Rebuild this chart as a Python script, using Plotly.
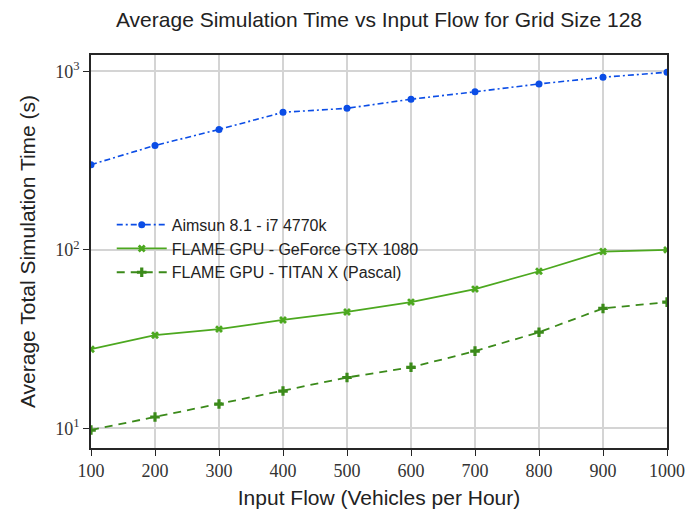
import plotly.graph_objects as go

flows = [100, 200, 300, 400, 500, 600, 700, 800, 900, 1000]
aimsun = [300, 384, 472, 589, 620, 697, 767, 849, 925, 987]
gtx1080 = [27.8, 33.3, 36.0, 40.5, 44.9, 51.0, 60.3, 75.9, 97.8, 100.0]
titanx = [9.8, 11.6, 13.7, 16.2, 19.3, 22.0, 27.1, 34.6, 47.0, 51.0]

names = ["Aimsun 8.1 - i7 4770k", "FLAME GPU - GeForce GTX 1080", "FLAME GPU - TITAN X (Pascal)"]
yticks = [10, 100, 1000]
yticktext = ["10<sup>1</sup>", "10<sup>2</sup>", "10<sup>3</sup>"]
xticks = flows

SANS = "Liberation Sans"
SERIF = "Liberation Serif"

fig = go.Figure()
fig.add_trace(go.Scatter(
    x=flows, y=aimsun, name=names[0], mode="lines+markers",
    line=dict(color="#0b4de6", width=1.6, dash="6px,3px,2px,3px"),
    marker=dict(symbol="circle", size=7, color="#0b4de6"),
))
fig.add_trace(go.Scatter(
    x=flows, y=gtx1080, name=names[1], mode="lines+markers",
    line=dict(color="#4ca81f", width=1.8),
    marker=dict(symbol="x", size=7, color="#4ca81f"),
))
fig.add_trace(go.Scatter(
    x=flows, y=titanx, name=names[2], mode="lines+markers",
    line=dict(color="#3b8a1a", width=1.8, dash="8px,6px"),
    marker=dict(symbol="cross", size=8, color="#3b8a1a"),
))

fig.update_layout(
    width=687, height=516,
    margin=dict(l=91, r=20, t=55, b=68),
    paper_bgcolor="white", plot_bgcolor="white",
    title=dict(text="Average Simulation Time vs Input Flow for Grid Size 128",
               x=0.5, xanchor="center", y=0.962, yanchor="middle",
               xref="paper",
               font=dict(family=SANS, size=21, color="#222")),
    legend=dict(x=0.036, y=0.507, xanchor="left", yanchor="middle",
                bgcolor="rgba(0,0,0,0)", borderwidth=0,
                font=dict(family=SANS, size=16, color="#222"),
                tracegroupgap=2, itemwidth=50),
    showlegend=True,
)
fig.update_xaxes(
    range=[100, 1000], tickvals=xticks, ticktext=[str(v) for v in xticks],
    automargin=False,
    showgrid=True, gridcolor="#d4d4d4", gridwidth=1.5,
    showline=True, linecolor="#262626", linewidth=1.6, mirror=True,
    ticks="outside", ticklen=6, tickwidth=1.3, tickcolor="#262626",
    tickfont=dict(family=SERIF, size=18, color="#333"),
    title=dict(text="Input Flow (Vehicles per Hour)", standoff=10,
               font=dict(family=SANS, size=21, color="#222")),
    zeroline=False,
)
fig.update_yaxes(
    type="log", range=[0.8908, 3.0908], tickvals=yticks, ticktext=yticktext,
    automargin=False,
    showgrid=True, gridcolor="#d4d4d4", gridwidth=1.5,
    showline=True, linecolor="#262626", linewidth=1.6, mirror=True,
    ticks="outside", ticklen=6, tickwidth=1.3, tickcolor="#262626",
    tickfont=dict(family=SERIF, size=18, color="#333"),
    title=dict(text="Average Total Simulation Time (s)", standoff=14,
               font=dict(family=SANS, size=21, color="#222")),
    zeroline=False,
)

fig.write_html("out.html")
